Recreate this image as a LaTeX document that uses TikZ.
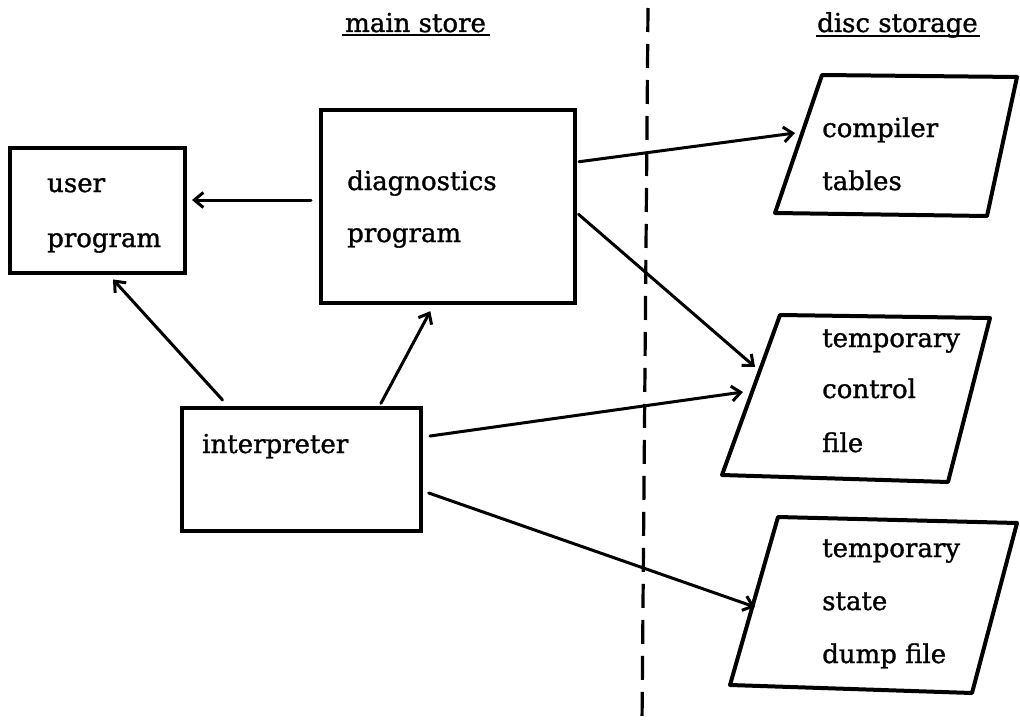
\documentclass[tikz,border=0pt]{standalone}
\usepackage{fontspec}
\setmainfont{DejaVu Serif}
\newfontfamily\labelfont[FakeBold=1.2]{DejaVu Serif}
\usetikzlibrary{arrows.meta,calc}
\begin{document}
\begin{tikzpicture}[x=1pt,y=-1pt,
  box/.style={draw, line width=4pt, rectangle, inner sep=0pt},
  lbl/.style={anchor=base west, inner sep=0pt, font=\labelfont\fontsize{26}{30}\selectfont},
  arr/.style={line width=3pt, line cap=round, -{Straight Barb[length=9pt,width=15pt]}},
  store/.style={draw, line width=4pt, line join=round},
  uline/.style={line width=2.8pt},
  divider/.style={line width=3.2pt, dash pattern=on 24pt off 12pt}
]
\useasboundingbox (0,0) rectangle (1020,725);

% column headings
\node[lbl] (ms) at (345,32) {main store};
\node[lbl] (ds) at (817,32) {disc storage};
\draw[uline] ([xshift=-3pt,yshift=-3pt]ms.base west) -- ([xshift=4pt,yshift=-3pt]ms.base east);
\draw[uline] ([xshift=-1pt,yshift=-4pt]ds.base west) -- ([xshift=2pt,yshift=-4pt]ds.base east);

% boundary between main store and disc storage
\coordinate (divtop) at (648,8);
\coordinate (divbot) at (642,725);
\draw[divider] (divtop) -- (divbot);

% main store boxes
\node[box, minimum width=175pt, minimum height=125pt] (user) at (97.5,210.5) {};
\node[box, minimum width=254pt, minimum height=193pt] (diag) at (448,206.5) {};
\node[box, minimum width=239pt, minimum height=123pt] (interp) at (301.5,469.5) {};

\node[lbl] (userA) at (47,192) {user};
\node[lbl] (userB) at (47,247) {program};
\node[lbl] (diagA) at (347,190) {diagnostics};
\node[lbl] (diagB) at (347,242) {program};
\node[lbl] (interpA) at (202,453) {interpreter};

% disc files (parallelograms)
\coordinate (ct1) at (822,75);  \coordinate (ct2) at (1017,77);
\coordinate (ct3) at (987,216); \coordinate (ct4) at (775,213);
\draw[store] (ct1) -- (ct2) -- (ct3) -- (ct4) -- cycle;
\node[lbl] (ctA) at (822,137) {compiler};
\node[lbl] (ctB) at (822,190) {tables};

\coordinate (cf1) at (780,315); \coordinate (cf2) at (990,318);
\coordinate (cf3) at (948,482); \coordinate (cf4) at (722,475);
\draw[store] (cf1) -- (cf2) -- (cf3) -- (cf4) -- cycle;
\node[lbl] (cfA) at (822,347) {temporary};
\node[lbl] (cfB) at (822,398) {control};
\node[lbl] (cfC) at (822,452) {file};

\coordinate (df1) at (778,517);  \coordinate (df2) at (1017,523);
\coordinate (df3) at (972,693);  \coordinate (df4) at (730,685);
\draw[store] (df1) -- (df2) -- (df3) -- (df4) -- cycle;
\node[lbl] (dfA) at (822,557) {temporary};
\node[lbl] (dfB) at (822,610) {state};
\node[lbl] (dfC) at (822,663) {dump file};

% arrow ends on the file outlines
\coordinate (ctIn) at (795,133);
\coordinate (cfIn1) at (755,367);
\coordinate (cfIn2) at (743,392);
\coordinate (dfIn) at (755,607);

% connectors
\draw[arr, shorten <=8pt, shorten >=5pt] ([yshift=6.5pt]diag.west) -- ([yshift=10.5pt]user.east);
\draw[arr, shorten <=8pt, shorten >=6pt] ([xshift=48pt]interp.north west) -- ([xshift=101pt]user.south west);
\draw[arr, shorten <=3pt, shorten >=7pt] ([xshift=199.5pt]interp.north west) -- ([xshift=114.6pt]diag.south west);
\draw[arr, shorten <=2pt] ([yshift=44.5pt]diag.east) -- (ctIn);
\draw[arr, shorten <=2pt] ([yshift=-6.5pt]diag.east) -- (cfIn1);
\draw[arr, shorten <=7pt] ([yshift=32.5pt]interp.east) -- (cfIn2);
\draw[arr, shorten <=6pt] ([yshift=-21.5pt]interp.east) -- (dfIn);
\end{tikzpicture}
\end{document}
